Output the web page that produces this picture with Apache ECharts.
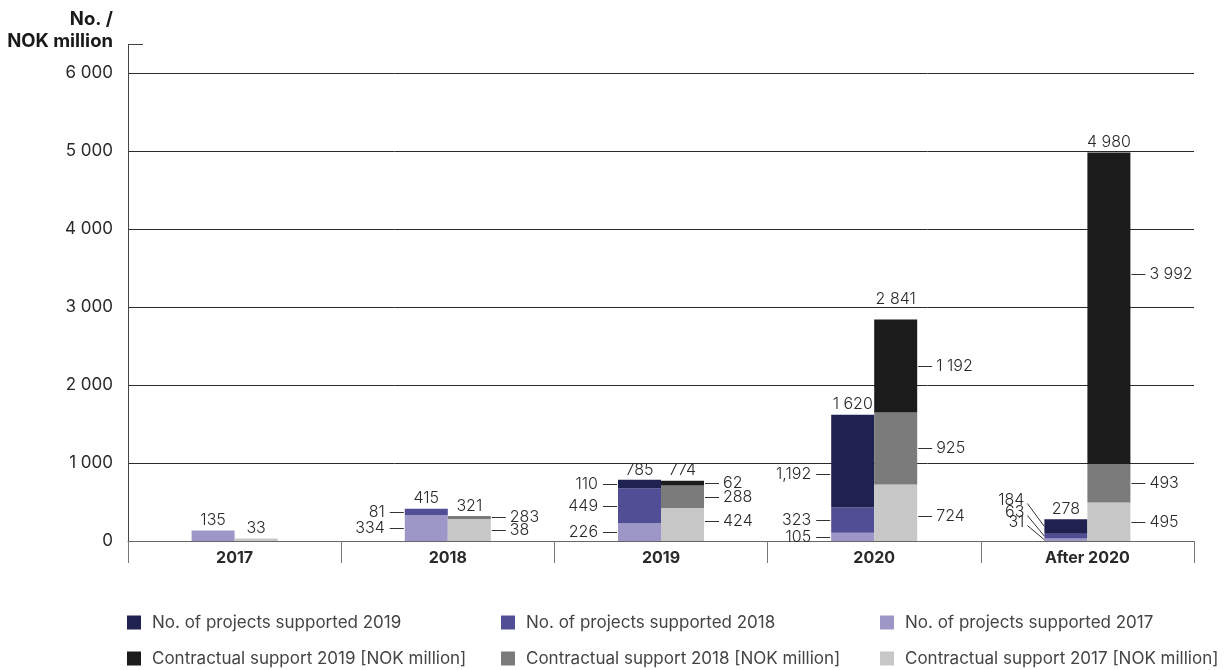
<!DOCTYPE html>
<html>
<head>
<meta charset="utf-8">
<script src="https://cdn.jsdelivr.net/npm/echarts@6/dist/echarts.min.js"></script>
<style>
  html, body { margin: 0; padding: 0; background: #ffffff; }
  #chart { width: 1232px; height: 670px; }
</style>
</head>
<body>
<div id="chart"></div>
<script>
// Categories along the x axis
const categories = ['2017', '2018', '2019', '2020', 'After 2020'];

// Number of projects supported, by year of support (left stack)
const projects2017 = [135, 334, 226, 105, 31];
const projects2018 = [0, 81, 449, 323, 63];
const projects2019 = [0, 0, 110, 1192, 184];

// Contractual support in NOK million, by year of support (right stack)
const contract2017 = [33, 283, 424, 724, 495];
const contract2018 = [0, 38, 288, 925, 493];
const contract2019 = [0, 0, 62, 1192, 3992];

// Value axis ticks
const yMin = 0;
const yMax = 6000;
const yStep = 1000;

const FONT = 'Inter, "Noto Sans", sans-serif';
const TEXT = '#2a2a2a';
const BAR_W = 43;

const projectNames = ['No. of projects supported 2019', 'No. of projects supported 2018', 'No. of projects supported 2017'];
const contractNames = ['Contractual support 2019 [NOK million]', 'Contractual support 2018 [NOK million]', 'Contractual support 2017 [NOK million]'];
const projectColors = ['#1f2150', '#524e95', '#9c97c7'];
const contractColors = ['#1b1b1b', '#7b7b7b', '#c7c7c7'];

const spaced = v => String(v).replace(/\B(?=(\d{3})+(?!\d))/g, ' ');
const commas = v => String(v).replace(/\B(?=(\d{3})+(?!\d))/g, ',');

// stacks: side 0 = projects, side 1 = contractual; segments bottom -> top
const stacks = [
  [projects2017, projects2018, projects2019],
  [contract2017, contract2018, contract2019]
];

// Small nudges for labels that sit away from their segment centre
const labelTweaks = {
  '1-1-0': { dy: -13 },
  '1-1-1': { dy: 13 },
  '2-1-0': { dy: -3 },
  '3-0-2': { dy: 13 },
  '3-1-0': { dy: 3 },
  '4-1-2': { dy: -34 },
  '4-0-2': { dy: -26, diag: true },
  '4-0-1': { dy: -24, diag: true },
  '4-0-0': { dy: -18, diag: true },
  't-3-1': { dy: -10 }
};

// Annotation rows: [category, side, base, value, kind(0 segment / 1 total), segment]
const annotations = [];
categories.forEach((c, ci) => {
  stacks.forEach((segs, side) => {
    const vals = segs.map(s => s[ci]);
    const nonZero = vals.filter(v => v > 0).length;
    let base = 0;
    vals.forEach((v, si) => {
      if (v > 0 && nonZero > 1) annotations.push([ci, side, base, v, 0, si]);
      base += v;
    });
    annotations.push([ci, side, 0, base, 1, -1]);
  });
});

function renderAnnotation(params, api) {
  const cat = api.value(0), side = api.value(1), base = api.value(2);
  const val = api.value(3), kind = api.value(4), seg = api.value(5);
  const cx = api.coord([cat, 0])[0];
  const textStyle = { fill: TEXT, fontSize: 16, fontFamily: FONT, fontWeight: 300 };
  if (kind === 1) {
    const tw = labelTweaks['t-' + cat + '-' + side] || {};
    const y = api.coord([cat, val])[1] - 10 + (tw.dy || 0);
    const x = side === 0 ? cx - BAR_W / 2 : cx + BAR_W / 2;
    return { type: 'text', style: Object.assign({ x: x, y: y, text: spaced(val), align: 'center', verticalAlign: 'middle' }, textStyle) };
  }
  const tw = labelTweaks[cat + '-' + side + '-' + seg] || {};
  const mid = api.coord([cat, base + val / 2])[1];
  const ty = Math.round(mid + (tw.dy || 0)) + 0.5;
  const lineStyle = { stroke: '#333', lineWidth: 1 };
  const children = [];
  if (side === 0) {
    const edge = cx - BAR_W;
    if (tw.diag) {
      children.push({ type: 'line', shape: { x1: edge - 17, y1: ty + 3, x2: edge, y2: mid }, style: lineStyle });
      children.push({ type: 'text', style: Object.assign({ x: edge - 20, y: ty, text: commas(val), align: 'right', verticalAlign: 'middle' }, textStyle) });
    } else {
      children.push({ type: 'line', shape: { x1: edge - 15, y1: ty, x2: edge - 1, y2: ty }, style: lineStyle });
      children.push({ type: 'text', style: Object.assign({ x: edge - 20, y: ty, text: commas(val), align: 'right', verticalAlign: 'middle' }, textStyle) });
    }
  } else {
    const edge = cx + BAR_W;
    children.push({ type: 'line', shape: { x1: edge + 1, y1: ty, x2: edge + 15, y2: ty }, style: lineStyle });
    children.push({ type: 'text', style: Object.assign({ x: edge + 19, y: ty, text: spaced(val), align: 'left', verticalAlign: 'middle' }, textStyle) });
  }
  return { type: 'group', children: children };
}

// Bar series, stacked bottom -> top: 2017, 2018, 2019
const projSeries = [0, 1, 2].map(i => ({
  name: projectNames[2 - i], type: 'bar', stack: 'projects', barWidth: BAR_W, barGap: '0%',
  itemStyle: { color: projectColors[2 - i] }, data: stacks[0][i], silent: true
}));
const contSeries = [0, 1, 2].map(i => ({
  name: contractNames[2 - i], type: 'bar', stack: 'contract', barWidth: BAR_W, barGap: '0%',
  itemStyle: { color: contractColors[2 - i] }, data: stacks[1][i], silent: true
}));

const legendCols = [127, 501, 880];
const legends = [];
projectNames.forEach((n, i) => legends.push({ name: n, left: legendCols[i], top: 614 }));
contractNames.forEach((n, i) => legends.push({ name: n, left: legendCols[i], top: 650 }));

const chart = echarts.init(document.getElementById('chart'), null, { renderer: 'canvas' });
chart.setOption({
  animation: false,
  backgroundColor: '#ffffff',
  grid: { left: 128, right: 38, top: 73, bottom: 129 },
  xAxis: {
    type: 'category',
    data: categories,
    axisLine: { show: true, lineStyle: { color: '#666', width: 1 } },
    axisTick: { show: true, length: 22, interval: 0, lineStyle: { color: '#777', width: 1 } },
    axisLabel: { color: TEXT, fontFamily: FONT, fontSize: 16, fontWeight: 'bold', margin: 9 }
  },
  yAxis: {
    type: 'value',
    min: yMin, max: yMax, interval: yStep,
    axisLine: { show: true, lineStyle: { color: '#444', width: 1 } },
    axisTick: { show: false },
    splitLine: { show: true, lineStyle: { color: '#2a2a2a', width: 1 } },
    axisLabel: { color: TEXT, fontFamily: FONT, fontSize: 17, margin: 15, formatter: v => spaced(v) }
  },
  legend: legends.map(l => ({
    data: [l.name], left: l.left, top: l.top, padding: 0,
    icon: 'rect', itemWidth: 14, itemHeight: 14, selectedMode: false,
    textStyle: { color: '#444', fontFamily: FONT, fontSize: 17, padding: [0, 0, 0, 6] }
  })),
  graphic: [
    { type: 'line', shape: { x1: 128.5, y1: 44.5, x2: 128.5, y2: 73 }, style: { stroke: '#444', lineWidth: 1 } },
    { type: 'line', shape: { x1: 128, y1: 44.5, x2: 143, y2: 44.5 }, style: { stroke: '#444', lineWidth: 1 } },
    { type: 'text', x: 113, y: 8, style: { text: 'No. /\nNOK million', align: 'right', fill: '#1a1a1a', fontFamily: FONT, fontSize: 18.5, fontWeight: 'bold', lineHeight: 22 } }
  ],
  series: projSeries.concat(contSeries, [{
    type: 'custom',
    coordinateSystem: 'cartesian2d',
    renderItem: renderAnnotation,
    encode: { x: 0, y: 3 },
    data: annotations,
    silent: true,
    z: 5
  }])
});
</script>
</body>
</html>
